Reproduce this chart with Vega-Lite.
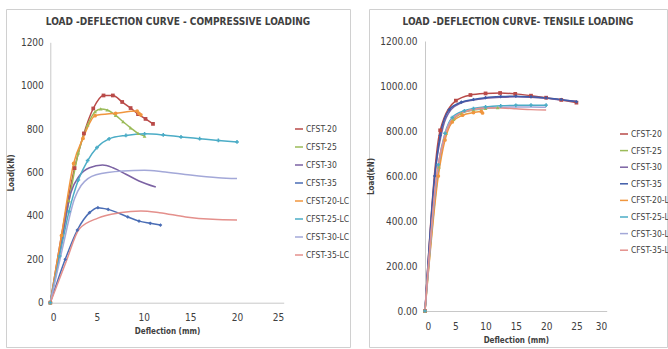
{
  "$schema": "https://vega.github.io/schema/vega-lite/v6.json",
  "padding": {"left": 5, "top": 8, "right": 0, "bottom": 0},
  "background": "white",
  "spacing": 16,
  "config": {
    "font": "'DejaVu Sans Condensed', sans-serif",
    "view": {"stroke": "#d0d0d0", "strokeWidth": 1},
    "axis": {"grid": false, "ticks": false, "tickSize": 0, "domainColor": "#c8c8c8", "labelColor": "#404040", "labelFontSize": 10, "titleColor": "#404040", "titleFontSize": 8, "titleFontWeight": "bold"},
    "legend": {"labelColor": "#404040", "labelFontSize": 8.5, "symbolType": "stroke", "symbolStrokeWidth": 1.5, "symbolSize": 64, "rowPadding": 8, "padding": 0, "labelOffset": 2},
    "title": {"color": "#404040", "fontSize": 10, "fontWeight": "bold"}
  },
  "resolve": {"scale": {"color": "independent", "shape": "independent", "strokeWidth": "independent", "x": "independent", "y": "independent"}, "legend": {"color": "independent"}},
  "datasets": {
    "comp": [
      {"s": "CFST-20", "x": 0, "y": 0}, {"s": "CFST-20", "x": 2.6, "y": 620}, {"s": "CFST-20", "x": 3.6, "y": 780}, {"s": "CFST-20", "x": 4.6, "y": 895}, {"s": "CFST-20", "x": 5.7, "y": 955}, {"s": "CFST-20", "x": 6.7, "y": 955}, {"s": "CFST-20", "x": 7.7, "y": 925}, {"s": "CFST-20", "x": 8.6, "y": 897}, {"s": "CFST-20", "x": 9.4, "y": 869}, {"s": "CFST-20", "x": 10.2, "y": 847}, {"s": "CFST-20", "x": 11.0, "y": 824},
      {"s": "CFST-25", "x": 0, "y": 0}, {"s": "CFST-25", "x": 2, "y": 470}, {"s": "CFST-25", "x": 3, "y": 690}, {"s": "CFST-25", "x": 4, "y": 820}, {"s": "CFST-25", "x": 4.8, "y": 880}, {"s": "CFST-25", "x": 5.4, "y": 893}, {"s": "CFST-25", "x": 6.1, "y": 888}, {"s": "CFST-25", "x": 7.0, "y": 863}, {"s": "CFST-25", "x": 7.8, "y": 834}, {"s": "CFST-25", "x": 8.6, "y": 806}, {"s": "CFST-25", "x": 9.4, "y": 780}, {"s": "CFST-25", "x": 10.1, "y": 768},
      {"s": "CFST-30", "x": 0, "y": 0}, {"s": "CFST-30", "x": 1.1, "y": 255}, {"s": "CFST-30", "x": 2.2, "y": 507}, {"s": "CFST-30", "x": 3.1, "y": 584}, {"s": "CFST-30", "x": 4.2, "y": 622}, {"s": "CFST-30", "x": 5.6, "y": 634}, {"s": "CFST-30", "x": 6.7, "y": 622}, {"s": "CFST-30", "x": 8.1, "y": 592}, {"s": "CFST-30", "x": 9.5, "y": 561}, {"s": "CFST-30", "x": 11.3, "y": 533},
      {"s": "CFST-35", "x": 0, "y": 0}, {"s": "CFST-35", "x": 1.6, "y": 200}, {"s": "CFST-35", "x": 2.9, "y": 335}, {"s": "CFST-35", "x": 4.2, "y": 415}, {"s": "CFST-35", "x": 5.1, "y": 438}, {"s": "CFST-35", "x": 6.2, "y": 430}, {"s": "CFST-35", "x": 8.3, "y": 395}, {"s": "CFST-35", "x": 9.5, "y": 376}, {"s": "CFST-35", "x": 10.7, "y": 366}, {"s": "CFST-35", "x": 11.8, "y": 358},
      {"s": "CFST-20-LC", "x": 0, "y": 0}, {"s": "CFST-20-LC", "x": 1.2, "y": 310}, {"s": "CFST-20-LC", "x": 2.5, "y": 642}, {"s": "CFST-20-LC", "x": 3.5, "y": 757}, {"s": "CFST-20-LC", "x": 4.8, "y": 862}, {"s": "CFST-20-LC", "x": 7.0, "y": 873}, {"s": "CFST-20-LC", "x": 9.3, "y": 883}, {"s": "CFST-20-LC", "x": 9.5, "y": 872}, {"s": "CFST-20-LC", "x": 9.7, "y": 866},
      {"s": "CFST-25-LC", "x": 0, "y": 0}, {"s": "CFST-25-LC", "x": 1, "y": 215}, {"s": "CFST-25-LC", "x": 2, "y": 420}, {"s": "CFST-25-LC", "x": 3, "y": 565}, {"s": "CFST-25-LC", "x": 4, "y": 655}, {"s": "CFST-25-LC", "x": 5, "y": 715}, {"s": "CFST-25-LC", "x": 6.3, "y": 755}, {"s": "CFST-25-LC", "x": 8.1, "y": 771}, {"s": "CFST-25-LC", "x": 10.1, "y": 778}, {"s": "CFST-25-LC", "x": 12.1, "y": 773}, {"s": "CFST-25-LC", "x": 14, "y": 764}, {"s": "CFST-25-LC", "x": 16, "y": 756}, {"s": "CFST-25-LC", "x": 18, "y": 748}, {"s": "CFST-25-LC", "x": 20, "y": 741},
      {"s": "CFST-30-LC", "x": 0, "y": 0}, {"s": "CFST-30-LC", "x": 1.3, "y": 250}, {"s": "CFST-30-LC", "x": 2.6, "y": 480}, {"s": "CFST-30-LC", "x": 3.3, "y": 540}, {"s": "CFST-30-LC", "x": 4.9, "y": 590}, {"s": "CFST-30-LC", "x": 7.8, "y": 607}, {"s": "CFST-30-LC", "x": 10.1, "y": 610}, {"s": "CFST-30-LC", "x": 12, "y": 604}, {"s": "CFST-30-LC", "x": 15, "y": 588}, {"s": "CFST-30-LC", "x": 18, "y": 576}, {"s": "CFST-30-LC", "x": 20, "y": 572},
      {"s": "CFST-35-LC", "x": 0, "y": 0}, {"s": "CFST-35-LC", "x": 1.7, "y": 190}, {"s": "CFST-35-LC", "x": 3.1, "y": 340}, {"s": "CFST-35-LC", "x": 5.1, "y": 390}, {"s": "CFST-35-LC", "x": 7.4, "y": 414}, {"s": "CFST-35-LC", "x": 9.7, "y": 423}, {"s": "CFST-35-LC", "x": 11.7, "y": 415}, {"s": "CFST-35-LC", "x": 14.5, "y": 395}, {"s": "CFST-35-LC", "x": 17.4, "y": 384}, {"s": "CFST-35-LC", "x": 20, "y": 381}
    ],
    "tens": [
      {"s": "CFST-20", "x": 0, "y": 0}, {"s": "CFST-20", "x": 2.5, "y": 803}, {"s": "CFST-20", "x": 5.1, "y": 935}, {"s": "CFST-20", "x": 7.5, "y": 960}, {"s": "CFST-20", "x": 10, "y": 967}, {"s": "CFST-20", "x": 12.4, "y": 969}, {"s": "CFST-20", "x": 14.9, "y": 965}, {"s": "CFST-20", "x": 17.5, "y": 957}, {"s": "CFST-20", "x": 20, "y": 948}, {"s": "CFST-20", "x": 22.5, "y": 938}, {"s": "CFST-20", "x": 25, "y": 926},
      {"s": "CFST-25", "x": 0, "y": 0}, {"s": "CFST-25", "x": 2.3, "y": 640}, {"s": "CFST-25", "x": 3.5, "y": 790}, {"s": "CFST-25", "x": 4.7, "y": 852}, {"s": "CFST-25", "x": 6, "y": 878}, {"s": "CFST-25", "x": 8, "y": 893}, {"s": "CFST-25", "x": 10, "y": 900}, {"s": "CFST-25", "x": 12, "y": 904},
      {"s": "CFST-30", "x": 0, "y": 0}, {"s": "CFST-30", "x": 1.8, "y": 640}, {"s": "CFST-30", "x": 3, "y": 820}, {"s": "CFST-30", "x": 4.3, "y": 895}, {"s": "CFST-30", "x": 6, "y": 925}, {"s": "CFST-30", "x": 8, "y": 938}, {"s": "CFST-30", "x": 10, "y": 945}, {"s": "CFST-30", "x": 12.5, "y": 950}, {"s": "CFST-30", "x": 15, "y": 952}, {"s": "CFST-30", "x": 17.5, "y": 950}, {"s": "CFST-30", "x": 20, "y": 945}, {"s": "CFST-30", "x": 22.5, "y": 938}, {"s": "CFST-30", "x": 25, "y": 932},
      {"s": "CFST-35", "x": 0, "y": 0}, {"s": "CFST-35", "x": 1.6, "y": 600}, {"s": "CFST-35", "x": 2.5, "y": 780}, {"s": "CFST-35", "x": 4, "y": 895}, {"s": "CFST-35", "x": 6, "y": 928}, {"s": "CFST-35", "x": 8, "y": 940}, {"s": "CFST-35", "x": 10, "y": 948}, {"s": "CFST-35", "x": 12.5, "y": 953}, {"s": "CFST-35", "x": 15, "y": 955}, {"s": "CFST-35", "x": 17.5, "y": 952}, {"s": "CFST-35", "x": 20, "y": 947}, {"s": "CFST-35", "x": 22.5, "y": 940}, {"s": "CFST-35", "x": 25, "y": 930},
      {"s": "CFST-20-LC", "x": 0, "y": 0}, {"s": "CFST-20-LC", "x": 2.2, "y": 600}, {"s": "CFST-20-LC", "x": 3.3, "y": 760}, {"s": "CFST-20-LC", "x": 4.5, "y": 840}, {"s": "CFST-20-LC", "x": 6.2, "y": 870}, {"s": "CFST-20-LC", "x": 8, "y": 882}, {"s": "CFST-20-LC", "x": 9.3, "y": 887}, {"s": "CFST-20-LC", "x": 9.5, "y": 880},
      {"s": "CFST-25-LC", "x": 0, "y": 0}, {"s": "CFST-25-LC", "x": 2.2, "y": 650}, {"s": "CFST-25-LC", "x": 3.3, "y": 790}, {"s": "CFST-25-LC", "x": 4.5, "y": 860}, {"s": "CFST-25-LC", "x": 6.5, "y": 890}, {"s": "CFST-25-LC", "x": 8, "y": 900}, {"s": "CFST-25-LC", "x": 10, "y": 907}, {"s": "CFST-25-LC", "x": 12.5, "y": 912}, {"s": "CFST-25-LC", "x": 15, "y": 914}, {"s": "CFST-25-LC", "x": 17.5, "y": 915}, {"s": "CFST-25-LC", "x": 20, "y": 915},
      {"s": "CFST-30-LC", "x": 0, "y": 0}, {"s": "CFST-30-LC", "x": 2.1, "y": 630}, {"s": "CFST-30-LC", "x": 3.2, "y": 775}, {"s": "CFST-30-LC", "x": 4.5, "y": 855}, {"s": "CFST-30-LC", "x": 6.5, "y": 885}, {"s": "CFST-30-LC", "x": 8, "y": 895}, {"s": "CFST-30-LC", "x": 10, "y": 901}, {"s": "CFST-30-LC", "x": 12.5, "y": 905}, {"s": "CFST-30-LC", "x": 15, "y": 907}, {"s": "CFST-30-LC", "x": 17.5, "y": 907}, {"s": "CFST-30-LC", "x": 20, "y": 906},
      {"s": "CFST-35-LC", "x": 0, "y": 0}, {"s": "CFST-35-LC", "x": 2, "y": 620}, {"s": "CFST-35-LC", "x": 3.2, "y": 770}, {"s": "CFST-35-LC", "x": 4.5, "y": 850}, {"s": "CFST-35-LC", "x": 6.5, "y": 885}, {"s": "CFST-35-LC", "x": 8, "y": 897}, {"s": "CFST-35-LC", "x": 10, "y": 902}, {"s": "CFST-35-LC", "x": 12.5, "y": 902}, {"s": "CFST-35-LC", "x": 15, "y": 899}, {"s": "CFST-35-LC", "x": 17.5, "y": 895}, {"s": "CFST-35-LC", "x": 20, "y": 893}
    ]
  },
  "hconcat": [
    {
      "width": 344,
      "height": 338,
      "title": {"text": "LOAD -DEFLECTION CURVE - COMPRESSIVE LOADING", "offset": -18},
      "data": {"name": "comp"},
      "encoding": {
        "x": {"field": "x", "type": "quantitative", "scale": {"domain": [0, 25], "range": [44.3, 277.7], "nice": false, "zero": false},
              "axis": {"values": [0, 5, 10, 15, 20, 25], "title": "Deflection (mm)", "offset": -44.3, "labelPadding": 10, "titlePadding": 5}},
        "y": {"field": "y", "type": "quantitative", "scale": {"domain": [0, 1200], "range": [293.7, 33.3], "nice": false, "zero": false},
              "axis": {"values": [0, 200, 400, 600, 800, 1000, 1200], "format": "d", "title": "Load(kN)", "offset": -44.3, "labelPadding": 7, "titlePadding": 5}},
        "color": {"field": "s", "type": "nominal",
                  "scale": {"domain": ["CFST-20", "CFST-25", "CFST-30", "CFST-35", "CFST-20-LC", "CFST-25-LC", "CFST-30-LC", "CFST-35-LC"],
                            "range": ["#B94A48", "#9BBB59", "#7B62A3", "#4A6DB5", "#F0963E", "#4BACC6", "#A3A8D8", "#E4908C"]},
                  "legend": {"title": null, "orient": "none", "legendX": 288, "legendY": 115}}
      },
      "layer": [
        {"mark": {"type": "line", "interpolate": "monotone", "strokeWidth": 1.5}},
        {"transform": [{"filter": "datum.s != 'CFST-30' && datum.s != 'CFST-30-LC' && datum.s != 'CFST-35-LC'"}],
         "mark": {"type": "point", "filled": true, "size": 14, "opacity": 1},
         "encoding": {
           "shape": {"field": "s", "type": "nominal", "legend": null,
                     "scale": {"domain": ["CFST-20", "CFST-25", "CFST-35", "CFST-20-LC", "CFST-25-LC"], "range": ["square", "triangle-up", "diamond", "circle", "cross"]}}
         }}
      ]
    },
    {
      "width": 298,
      "height": 338,
      "title": {"text": "LOAD -DEFLECTION CURVE- TENSILE LOADING", "offset": -18},
      "data": {"name": "tens"},
      "encoding": {
        "x": {"field": "x", "type": "quantitative", "scale": {"domain": [0, 30], "range": [56, 237.7], "nice": false, "zero": false},
              "axis": {"values": [0, 5, 10, 15, 20, 25, 30], "title": "Deflection (mm)", "offset": -36, "labelPadding": 10, "titlePadding": 5}},
        "y": {"field": "y", "type": "quantitative", "scale": {"domain": [0, 1200], "range": [302, 32], "nice": false, "zero": false},
              "axis": {"values": [0, 200, 400, 600, 800, 1000, 1200], "format": ".2f", "title": "Load(kN)", "offset": -56, "labelPadding": 8, "titlePadding": 4}},
        "color": {"field": "s", "type": "nominal",
                  "scale": {"domain": ["CFST-20", "CFST-25", "CFST-30", "CFST-35", "CFST-20-LC", "CFST-25-LC", "CFST-30-LC", "CFST-35-LC"],
                            "range": ["#B94A48", "#9BBB59", "#7B62A3", "#3F5BA8", "#F0963E", "#4BACC6", "#A3A8D8", "#E4908C"]},
                  "legend": {"title": null, "orient": "none", "legendX": 250, "legendY": 120, "rowPadding": 6.6}}
      },
      "layer": [
        {"mark": {"type": "line", "interpolate": "monotone"},
         "encoding": {"strokeWidth": {"field": "s", "type": "nominal", "legend": null,
                       "scale": {"domain": ["CFST-20", "CFST-25", "CFST-30", "CFST-35", "CFST-20-LC", "CFST-25-LC", "CFST-30-LC", "CFST-35-LC"], "range": [1.5, 1.5, 2, 2.5, 1.5, 1.5, 1.5, 1.5]}}}},
        {"transform": [{"filter": "datum.s != 'CFST-30' && datum.s != 'CFST-30-LC' && datum.s != 'CFST-35-LC'"}],
         "mark": {"type": "point", "filled": true, "size": 14, "opacity": 1},
         "encoding": {
           "shape": {"field": "s", "type": "nominal", "legend": null,
                     "scale": {"domain": ["CFST-20", "CFST-25", "CFST-35", "CFST-20-LC", "CFST-25-LC"], "range": ["square", "triangle-up", "diamond", "circle", "cross"]}}
         }}
      ]
    }
  ]
}
